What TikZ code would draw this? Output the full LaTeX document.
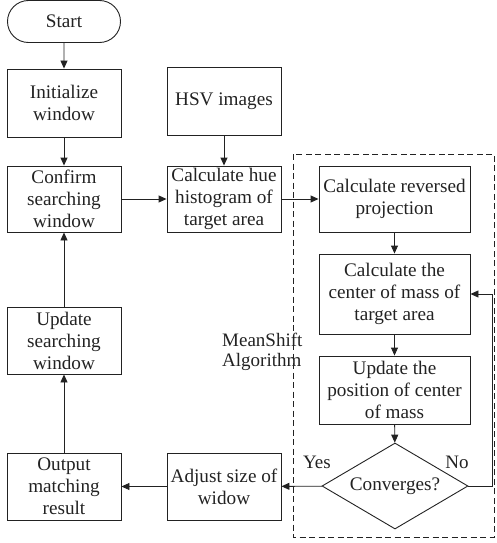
\documentclass[tikz,border=0pt]{standalone}
\usepackage{fontspec}
\setmainfont{Liberation Serif}
\usetikzlibrary{arrows.meta,shapes.geometric,shapes.misc}
\definecolor{ink}{HTML}{222222}
\tikzset{
  box/.style={draw=ink, line width=0.9pt, rectangle, minimum width=114pt, inner sep=0pt, align=center, text=ink,
    font=\fontsize{19.2}{22}\selectfont},
  wbox/.style={box, minimum width=151pt},
  startbox/.style={box, rounded rectangle, minimum width=113pt, minimum height=42pt},
  decbox/.style={draw=ink, line width=0.9pt, diamond, minimum width=146pt, minimum height=86pt, inner sep=0pt, aspect=1.7, text=ink,
    font=\fontsize{19.2}{22}\selectfont},
  lbl/.style={text=ink, font=\fontsize{19}{20}\selectfont, inner sep=0pt},
  arr/.style={draw=ink, line width=0.9pt, -{Triangle[length=8pt,width=7pt]}},
  ln/.style={draw=ink, line width=0.9pt},
}
\begin{document}
\begin{tikzpicture}[x=1pt,y=-1pt]
\useasboundingbox (0,0) rectangle (497,543);
\draw[ink, line width=0.9pt, dashed, dash pattern=on 6pt off 3.5pt] (293,154) rectangle (494,537);
\node[startbox] (start) at (64,21.5) {Start};
\node[box, minimum height=68pt] (init) at (64,103) {Initialize\\window};
\node[box, minimum height=66pt] (confirm) at (64,199) {Confirm\\searching\\window};
\node[box, minimum height=68pt] (hsv) at (224,101) {HSV images};
\node[box, minimum height=66pt] (hue) at (224,199) {Calculate hue\\histogram of\\target area};
\node[wbox, minimum height=66pt] (rev) at (394.5,199) {Calculate reversed\\projection};
\node[wbox, minimum height=80pt] (com) at (394.5,294) {Calculate the\\center of mass of\\target area};
\node[wbox, minimum height=68pt] (upd) at (394.5,390) {Update the\\position of center\\of mass};
\node[decbox] (conv) at (395,486) {Converges?};
\node[box, minimum height=67pt] (adj) at (224,486.5) {Adjust size of\\widow};
\node[box, minimum height=67pt] (out) at (64,486.5) {Output\\matching\\result};
\node[box, minimum height=67pt] (usw) at (64,340.5) {Update\\searching\\window};
\node[lbl, align=left, anchor=west] (ms) at (222,352) {MeanShift\\Algorithm};
\node[lbl] (yes) at (317,462) {Yes};
\node[lbl] (no) at (457,462) {No};
\coordinate (nr) at (492,486);
\draw[arr] (start) -- (init);
\draw[arr] (init) -- (confirm);
\draw[arr] (confirm) -- (hue);
\draw[arr] (hsv) -- (hue);
\draw[arr] (hue) -- (rev);
\draw[arr] (rev) -- (com);
\draw[arr] (com) -- (upd);
\draw[arr] (upd) -- (conv);
\draw[arr] (conv) -- (adj);
\draw[arr] (adj) -- (out);
\draw[arr] (out) -- (usw);
\draw[arr] (usw) -- (confirm);
\draw[arr] (conv.east) -- (nr) |- (com.east);
\end{tikzpicture}
\end{document}
